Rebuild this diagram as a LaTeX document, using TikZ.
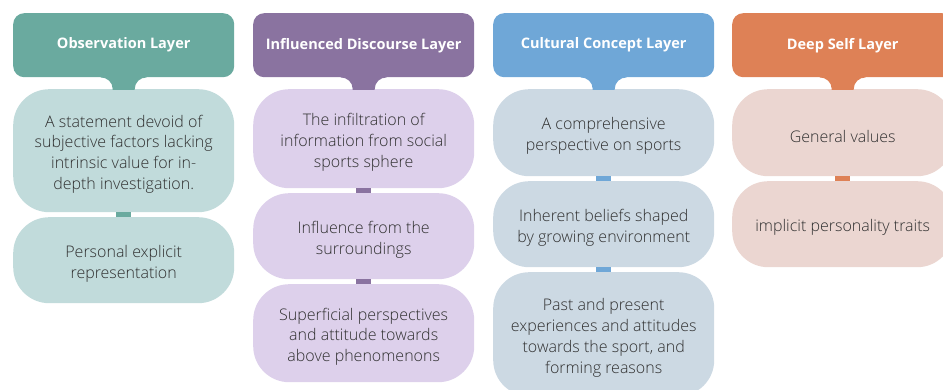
\documentclass[tikz,border=0pt]{standalone}
\usepackage{fontspec}
\setmainfont{Open Sans}
\newfontfamily\itemfont{Open Sans Light}
\usetikzlibrary{calc}

% layer palettes: header colour and item colour
\definecolor{obsHead}{HTML}{6AAA9F}
\definecolor{obsItem}{HTML}{C1DBDB}
\definecolor{infHead}{HTML}{8A73A0}
\definecolor{infItem}{HTML}{DDD0EB}
\definecolor{culHead}{HTML}{6FA7D7}
\definecolor{culItem}{HTML}{CCD9E3}
\definecolor{deepHead}{HTML}{DE8156}
\definecolor{deepItem}{HTML}{EBD6D1}
\definecolor{bodyText}{HTML}{303030}

\tikzset{
  layerhead/.style={fill=#1, rounded corners=11pt, minimum width=221pt,
    minimum height=64pt, inner sep=0pt, text=white, anchor=north west,
    font=\bfseries\fontsize{14.5}{17}\selectfont},
  itembox/.style={fill=#1, rounded corners=36pt, minimum width=221pt,
    inner sep=0pt, anchor=north west},
  itemtext/.style={text=bodyText, align=center, inner sep=0pt,
    font=\itemfont\fontsize{16}{20.8}\selectfont},
}

% item box: name, top-left corner, height, fill colour, text
\newcommand\layerbox[5]{%
  \node[itembox=#4, minimum height=#3pt] (#1) at #2 {};
  \node[itemtext] (#1-text) at ($(#1.center)+(0,3.5)$) {#5};}
% tab joining a header (#1) to its first item (#2), filled with #3
\newcommand\layertab[3]{%
  \fill[#3] ($(#1.south)+(-23,-1)$) -- ($(#1.south)+(-23,0)$)
    .. controls ($(#1.south)+(-16.4,0)$) and ($(#2.north)+(-11,-6.6)$) .. ($(#2.north)+(-11,0)$)
    -- ($(#2.north)+(-11,1)$) -- ($(#2.north)+(11,1)$) -- ($(#2.north)+(11,0)$)
    .. controls ($(#2.north)+(11,-6.6)$) and ($(#1.south)+(16.4,0)$) .. ($(#1.south)+(23,0)$)
    -- ($(#1.south)+(23,-1)$) -- cycle;}
% small bar joining two stacked items
\newcommand\layerlink[3]{%
  \fill[#3] ($(#1.south)+(-7.5,0)$) rectangle ($(#2.north)+(7.5,0)$);}

\begin{document}
\begin{tikzpicture}[x=1pt,y=-1pt]
\useasboundingbox (0,0) rectangle (943,390);
\clip (0,0) rectangle (943,390);

% Observation layer
\node[layerhead=obsHead] (h1) at (13,13) {Observation Layer};
\layerbox{a1}{(13,89)}{123}{obsItem}
  {A statement devoid of\\subjective factors lacking\\intrinsic value for in-\\depth investigation.}
\layerbox{a2}{(13,217)}{86}{obsItem}
  {Personal explicit\\representation}
\layertab{h1}{a1}{obsHead}
\layerlink{a1}{a2}{obsHead}

% Influenced discourse layer
\node[layerhead=infHead] (h2) at (253,13) {Influenced Discourse Layer};
\layerbox{b1}{(253,89)}{99}{infItem}
  {The infiltration of\\information from social\\sports sphere}
\layerbox{b2}{(253,193)}{86}{infItem}
  {Influence from the\\surroundings}
\layerbox{b3}{(253,284)}{98}{infItem}
  {Superficial perspectives\\and attitude towards\\above phenomenons}
\layertab{h2}{b1}{infHead}
\layerlink{b1}{b2}{infHead}
\layerlink{b2}{b3}{infHead}

% Cultural concept layer
\node[layerhead=culHead] (h3) at (493,13) {Cultural Concept Layer};
\layerbox{c1}{(493,89)}{87}{culItem}
  {A comprehensive\\perspective on sports}
\layerbox{c2}{(493,181)}{86}{culItem}
  {Inherent beliefs shaped\\by growing environment}
\layerbox{c3}{(493,272)}{124}{culItem}
  {Past and present\\experiences and attitudes\\towards the sport, and\\forming reasons}
\layertab{h3}{c1}{culHead}
\layerlink{c1}{c2}{culHead}
\layerlink{c2}{c3}{culHead}

% Deep self layer
\node[layerhead=deepHead] (h4) at (732,13) {Deep Self Layer};
\layerbox{d1}{(732,89)}{87}{deepItem}
  {General values}
\layerbox{d2}{(732,181)}{86}{deepItem}
  {implicit personality traits}
\layertab{h4}{d1}{deepHead}
\layerlink{d1}{d2}{deepHead}
\end{tikzpicture}
\end{document}
